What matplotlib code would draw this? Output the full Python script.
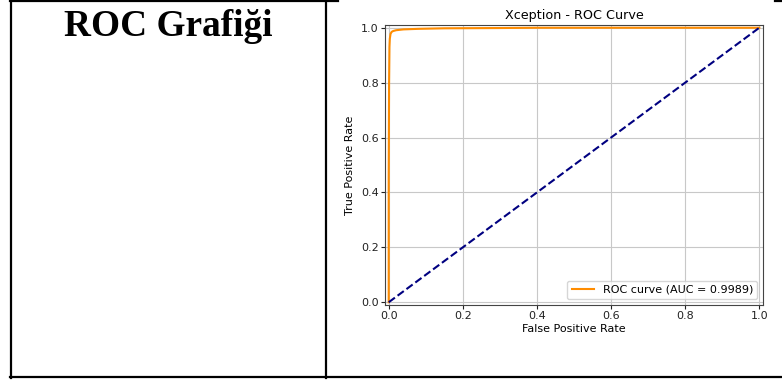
import matplotlib
matplotlib.use("Agg")
import matplotlib.pyplot as plt
from matplotlib.lines import Line2D

# ROC noktaları (resimden okunan yaklaşık değerler)
fpr = [0.0, 0.0, 0.001, 0.002, 0.003, 0.005, 0.008, 0.012, 0.02, 0.04, 0.08, 0.15, 0.3, 0.4, 1.0]
tpr = [0.0, 0.45, 0.80, 0.93, 0.96, 0.978, 0.985, 0.988, 0.991, 0.994, 0.996, 0.998, 0.999, 1.0, 1.0]
auc_value = 0.9989

cell_title = "ROC Grafiği"
plot_title = "Xception - ROC Curve"

W, H = 782, 385
fig = plt.figure(figsize=(W / 100, H / 100), dpi=100)

# tablo çizgileri
def px_line(x0, y0, x1, y1):
    fig.add_artist(Line2D([x0 / W, x1 / W], [1 - y0 / H, 1 - y1 / H],
                          color="black", lw=1.6, transform=fig.transFigure))

px_line(11, 0, 11, 378)
px_line(325.5, 0, 325.5, 378)
px_line(10, 377, 782, 377)
px_line(10, 0.8, 338, 0.8)
px_line(775, 0.8, 782, 0.8)

fig.text(168 / W, 1 - 26 / H, cell_title, ha="center", va="center",
         family="Liberation Serif", weight="bold", fontsize=26.8)

ax = fig.add_axes([385 / W, 1 - 305 / H, (763 - 385) / W, (305 - 25) / H])
ax.plot(fpr, tpr, color="darkorange", lw=1.5, label="ROC curve (AUC = %.4f)" % auc_value)
ax.plot([0, 1], [0, 1], color="navy", lw=1.5, linestyle="--")
ax.set_xlim([-0.01, 1.01])
ax.set_ylim([-0.01, 1.01])
ax.set_xlabel("False Positive Rate", fontsize=8, labelpad=2)
ax.set_ylabel("True Positive Rate", fontsize=8, labelpad=4)
ax.set_title(plot_title, fontsize=9.2, pad=4)
ax.tick_params(labelsize=8, length=3, pad=1.5, colors="#222222")
ax.grid(True, color="#c8c8c8", lw=0.8)
ax.legend(loc="lower right", fontsize=8)
for s in ax.spines.values():
    s.set_color("#444444")

fig.savefig("out.png", dpi=100)
